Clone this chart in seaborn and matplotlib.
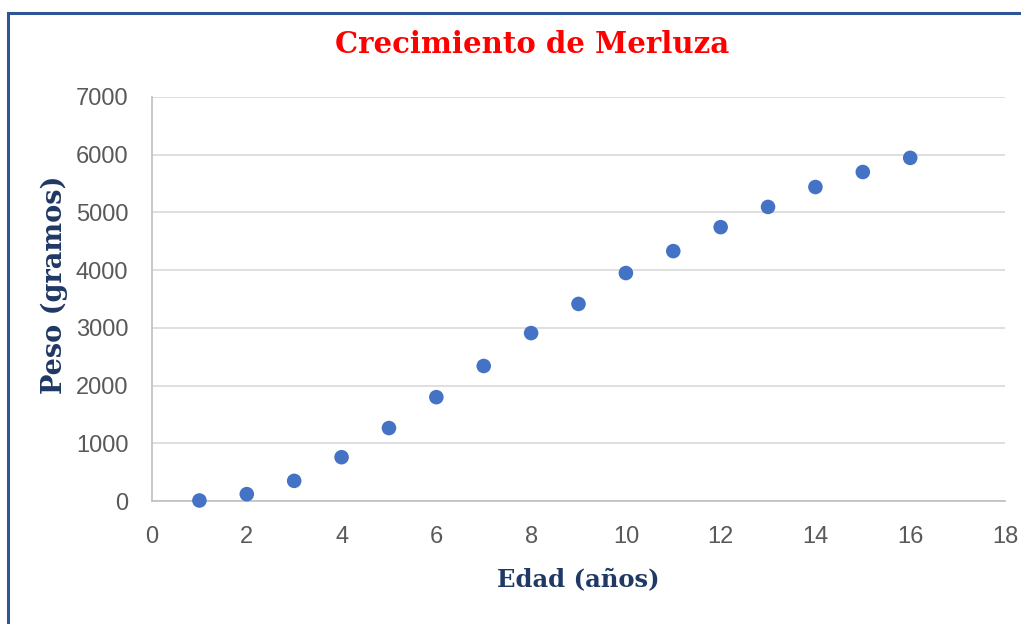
import matplotlib
matplotlib.use("Agg")
import matplotlib.pyplot as plt
import seaborn as sns
import pandas as pd
from matplotlib.patches import Rectangle

# Edad vs peso de merluza
edad = [1, 2, 3, 4, 5, 6, 7, 8, 9, 10, 11, 12, 13, 14, 15, 16]
peso = [10, 120, 350, 760, 1265, 1800, 2340, 2910, 3415, 3950, 4330, 4745, 5095, 5440, 5700, 5945]
x_ticks = [0, 2, 4, 6, 8, 10, 12, 14, 16, 18]
y_ticks = [0, 1000, 2000, 3000, 4000, 5000, 6000, 7000]

df = pd.DataFrame({"Edad": edad, "Peso": peso})

sns.set_style("white")
plt.rcParams['font.family'] = ['Liberation Sans', 'DejaVu Sans']
serif = ['DejaVu Serif']

fig = plt.figure(figsize=(10.21, 6.24), dpi=100)
ax = fig.add_axes([0.1489, 0.197, 0.8354, 0.6476])

sns.scatterplot(data=df, x="Edad", y="Peso", ax=ax, color="#4472C4",
                s=110, edgecolor="none", zorder=3, clip_on=False)

ax.set_xlim(0, 18)
ax.set_ylim(0, 7000)
ax.set_xticks(x_ticks)
ax.set_yticks(y_ticks)
ax.tick_params(axis='both', labelsize=17, labelcolor="#595959", length=0)
ax.tick_params(axis='y', pad=17)
ax.tick_params(axis='x', pad=18)
ax.grid(axis='y', color="#D9D9D9", linewidth=1.2)
ax.grid(axis='x', visible=False)
for side in ['top', 'right']:
    ax.spines[side].set_visible(False)
for side in ['left', 'bottom']:
    ax.spines[side].set_color("#BFBFBF")
    ax.spines[side].set_linewidth(1.2)

ax.set_xlabel("Edad (años)", fontsize=17.5, fontweight='bold', color="#1F3864",
              family=serif, labelpad=14)
ax.set_ylabel("Peso (gramos)", fontsize=19.5, fontweight='bold', color="#1F3864",
              family=serif)
ax.yaxis.set_label_coords(-0.099, 0.535)

fig.text(0.5215, 0.929, "Crecimiento de Merluza", ha='center', va='center',
         fontsize=21, fontweight='bold', color="#FF0000", family=serif)

# marco del grafico (solo visible arriba y a la izquierda)
fig.patches.append(Rectangle((8 / 1021, -0.1), 1.2, 1.1 - 13 / 624,
                             transform=fig.transFigure, fill=False,
                             edgecolor="#2F5597", linewidth=2.2))

fig.savefig("out.png", dpi=100)
